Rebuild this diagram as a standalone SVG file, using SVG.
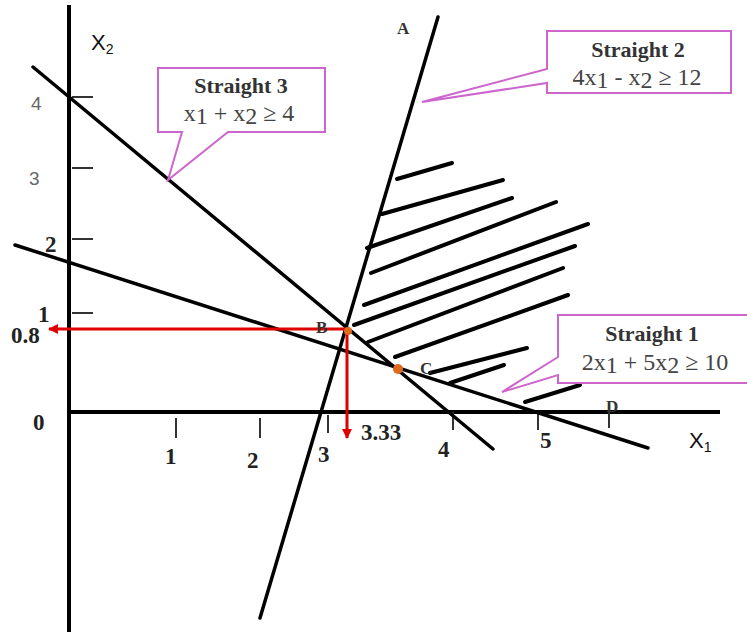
<svg xmlns="http://www.w3.org/2000/svg" width="747" height="637" viewBox="0 0 747 637">
<defs>
<style>
.ax{stroke:#000;stroke-width:4;fill:none}
.ln{stroke:#000;stroke-width:3.5;fill:none;stroke-linecap:round}
.tk{stroke:#333;stroke-width:2;fill:none}
.ht{stroke:#000;stroke-width:4;fill:none;stroke-linecap:round}
.red{stroke:#e00000;stroke-width:3;fill:none}
.call{fill:#fff;stroke:#cc66cc;stroke-width:2}
.num{font-family:"Liberation Serif",serif;font-weight:bold;font-size:23px;fill:#222}
.gnum{font-family:"Liberation Sans",sans-serif;font-size:19px;fill:#666}
.axl{font-family:"Liberation Sans",sans-serif;font-size:22px;fill:#111}
.ttl{font-family:"Liberation Serif",serif;font-weight:bold;font-size:22px;fill:#333;text-anchor:middle}
.eq{font-family:"Liberation Serif",serif;font-size:24px;fill:#444;text-anchor:middle}
.pt{font-family:"Liberation Serif",serif;font-weight:bold;font-size:17px;fill:#333}
.dot{fill:#e06a1e}
</style>
<marker id="ah" markerWidth="10" markerHeight="10" refX="9" refY="5" orient="auto" markerUnits="userSpaceOnUse">
<path d="M0,0 L10,5 L0,10 Z" fill="#e00000"/>
</marker>
</defs>
<rect width="747" height="637" fill="#fff"/>
<g id="axes">
<line class="ax" x1="69" y1="5" x2="69" y2="632"/>
<line class="ax" x1="67" y1="412" x2="720" y2="412"/>
<line class="tk" x1="72" y1="97" x2="93" y2="97"/>
<line class="tk" x1="72" y1="168" x2="93" y2="168"/>
<line class="tk" x1="72" y1="239" x2="93" y2="239"/>
<line class="tk" x1="72" y1="313" x2="93" y2="313"/>
<line class="tk" x1="176" y1="418" x2="176" y2="438"/>
<line class="tk" x1="260" y1="418" x2="260" y2="438"/>
<line class="tk" x1="328" y1="415" x2="328" y2="433"/>
<line class="tk" x1="453" y1="412" x2="453" y2="430"/>
<line class="tk" x1="538" y1="412" x2="538" y2="430"/>
<line class="tk" x1="609" y1="405" x2="609" y2="428"/>
<text class="axl" x="91" y="50">X<tspan font-size="14" dy="4">2</tspan></text>
<text class="axl" x="689" y="448">X<tspan font-size="14" dy="4">1</tspan></text>
<text class="gnum" x="31" y="110">4</text>
<text class="gnum" x="29" y="185">3</text>
<text class="num" x="45" y="252">2</text>
<text class="num" x="38" y="322">1</text>
<text class="num" x="11" y="343">0.8</text>
<text class="num" x="33" y="430">0</text>
<text class="num" x="165" y="464">1</text>
<text class="num" x="247" y="468">2</text>
<text class="num" x="318" y="462">3</text>
<text class="num" x="438" y="457">4</text>
<text class="num" x="540" y="448">5</text>
<text class="num" x="361" y="440">3.33</text>
<text class="pt" x="606" y="412">D</text>
<text class="pt" x="397" y="34">A</text>
</g>
<g id="connectors">
<line class="ln" x1="33" y1="67" x2="493" y2="449"/>
<line class="ln" x1="15" y1="245" x2="648" y2="448"/>
<line class="ln" x1="438" y1="17" x2="260" y2="618"/>
<line class="ht" x1="397" y1="179" x2="452" y2="163"/>
<line class="ht" x1="382" y1="214" x2="503" y2="180"/>
<line class="ht" x1="367" y1="248" x2="512" y2="198"/>
<line class="ht" x1="371" y1="273" x2="556" y2="202"/>
<line class="ht" x1="364" y1="305" x2="588" y2="224"/>
<line class="ht" x1="354" y1="325" x2="575" y2="246"/>
<line class="ht" x1="368" y1="342" x2="563" y2="268"/>
<line class="ht" x1="395" y1="357" x2="568" y2="295"/>
<line class="ht" x1="430" y1="373" x2="527" y2="348"/>
<line class="ht" x1="450" y1="383" x2="504" y2="365"/>
<line class="ht" x1="525" y1="402" x2="580" y2="385"/>
<line class="red" x1="347" y1="329" x2="49" y2="329" marker-end="url(#ah)"/>
<line class="red" x1="347" y1="329" x2="347" y2="438" marker-end="url(#ah)"/>
</g>
<g id="B">
<circle class="dot" cx="348" cy="331" r="4"/>
<text class="pt" x="316" y="333">B</text>
</g>
<g id="C">
<circle class="dot" cx="398" cy="369" r="5"/>
<text class="pt" x="420" y="374">C</text>
</g>
<g id="straight3">
<path class="call" d="M158,68 H325 V132 H228 L168,180 L182,132 H158 Z"/>
<text class="ttl" x="241" y="93">Straight 3</text>
<text class="eq" x="239" y="121">x<tspan dy="3">1</tspan><tspan dy="-3"> + x</tspan><tspan dy="3">2</tspan><tspan dy="-3"> ≥  4</tspan></text>
</g>
<g id="straight2">
<path class="call" d="M547,31 H731 V93 H547 V83 L422,102 L547,69 Z"/>
<text class="ttl" x="638" y="57">Straight 2</text>
<text class="eq" x="637" y="85">4x<tspan dy="3">1</tspan><tspan dy="-3"> - x</tspan><tspan dy="3">2</tspan><tspan dy="-3"> ≥ 12</tspan></text>
</g>
<g id="straight1">
<path class="call" d="M558,315 H760 V383 H558 V375 L502,392 L558,357 Z"/>
<text class="ttl" x="652" y="341">Straight 1</text>
<text class="eq" x="655" y="370">2x<tspan dy="3">1</tspan><tspan dy="-3"> + 5x</tspan><tspan dy="3">2</tspan><tspan dy="-3"> ≥ 10</tspan></text>
</g>
</svg>
